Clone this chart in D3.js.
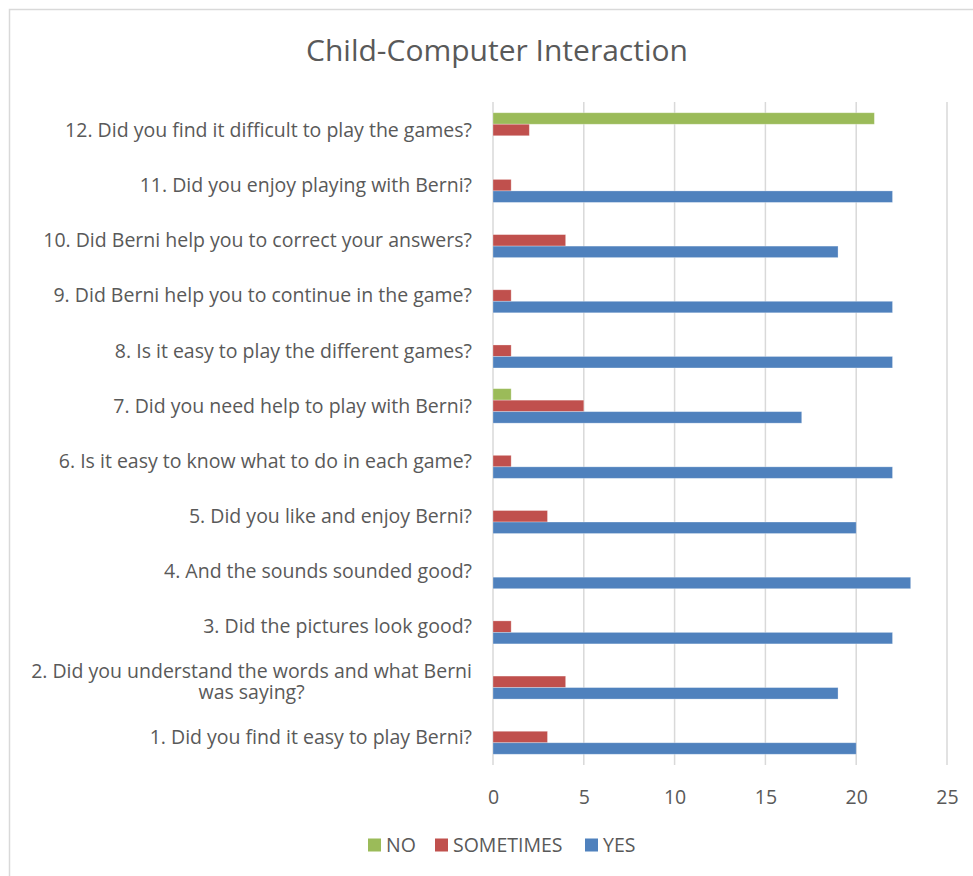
<!DOCTYPE html>
<html>
<head>
<meta charset="utf-8">
<script src="https://cdn.jsdelivr.net/npm/d3@7"></script>
<style>
  html, body { margin: 0; padding: 0; background: #fff; }
  svg { display: block; }
  text { font-family: "Open Sans", Lato, sans-serif; fill: #595959; }
</style>
</head>
<body>
<svg id="chart" width="973" height="876"></svg>
<script>
const title = "Child-Computer Interaction";
const categories = [
  ["1. Did you find it easy to play Berni?"],
  ["2. Did you understand the words and what Berni", "was saying?"],
  ["3. Did the pictures look good?"],
  ["4. And the sounds sounded good?"],
  ["5. Did you like and enjoy Berni?"],
  ["6. Is it easy to know what to do in each game?"],
  ["7. Did you need help to play with Berni?"],
  ["8. Is it easy to play the different games?"],
  ["9. Did Berni help you to continue in the game?"],
  ["10. Did Berni help you to correct your answers?"],
  ["11. Did you enjoy playing with Berni?"],
  ["12. Did you find it difficult to play the games?"]
];
const seriesNames = ["NO", "SOMETIMES", "YES"];
const seriesColors = ["#9BBB59", "#C0504D", "#4F81BD"];
const noValues =        [0, 0, 0, 0, 0, 0, 1, 0, 0, 0, 0, 21];
const sometimesValues = [3, 4, 1, 0, 3, 1, 5, 1, 1, 4, 1, 2];
const yesValues =       [20, 19, 22, 23, 20, 22, 17, 22, 22, 19, 22, 0];
const xTicks = [0, 5, 10, 15, 20, 25];

const seriesValues = [noValues, sometimesValues, yesValues];
const svg = d3.select("#chart");
const FS = "19.5px";

// chart border
svg.append("rect")
  .attr("x", 9.5).attr("y", 9.5).attr("width", 1000).attr("height", 900)
  .attr("fill", "none").attr("stroke", "#d9d9d9").attr("stroke-width", 1.5);

// title
svg.append("text")
  .attr("x", 497).attr("y", 61)
  .attr("text-anchor", "middle")
  .style("font-size", "30px")
  .text(title);

const x = d3.scaleLinear().domain([0, 25]).range([493, 947]);
const idx = categories.map((d, i) => i);
const y = d3.scaleBand().domain(idx.slice().reverse()).range([102.4, 764.6]).padding(0);
const groupH = y.bandwidth() * 0.625;
const sub = d3.scaleBand().domain(seriesNames).range([0, groupH]).padding(0);

// gridlines
svg.append("g").selectAll("line").data(xTicks).join("line")
  .attr("x1", d => x(d)).attr("x2", d => x(d))
  .attr("y1", 102).attr("y2", 765)
  .attr("stroke", "#d9d9d9").attr("stroke-width", 1.5);

// bars
const rows = [];
idx.forEach(i => seriesNames.forEach((s, j) => rows.push({ i, s, j, v: seriesValues[j][i] })));
svg.append("g").selectAll("rect").data(rows.filter(r => r.v > 0)).join("rect")
  .attr("x", x(0))
  .attr("y", r => y(r.i) + (y.bandwidth() - groupH) / 2 + sub(r.s))
  .attr("width", r => x(r.v) - x(0))
  .attr("height", sub.bandwidth())
  .attr("fill", r => seriesColors[r.j])
  .attr("stroke", "rgba(255,255,255,0.35)")
  .attr("stroke-width", 0.8);

// category labels
const lg = svg.append("g");
idx.forEach(i => {
  const lines = categories[i];
  const cy = y(i) + y.bandwidth() / 2;
  const lh = 21;
  if (lines.length === 1) {
    lg.append("text")
      .attr("x", 472).attr("y", cy).attr("dy", "0.35em")
      .attr("text-anchor", "end")
      .style("font-size", FS)
      .text(lines[0]);
  } else {
    const tmp = lg.append("text").style("font-size", FS).text(lines[0]);
    const w = tmp.node().getComputedTextLength();
    tmp.remove();
    const centerX = 472 - w / 2;
    const t = lg.append("text")
      .attr("text-anchor", "middle")
      .style("font-size", FS);
    lines.forEach((ln, k) => {
      t.append("tspan")
        .attr("x", centerX)
        .attr("y", cy + (k - (lines.length - 1) / 2) * lh)
        .attr("dy", "0.35em")
        .text(ln);
    });
  }
});

// x axis tick labels
const xAxis = d3.axisBottom(x).tickValues(xTicks).tickSize(0).tickPadding(0);
const ax = svg.append("g").attr("transform", "translate(0,797)").call(xAxis);
ax.select(".domain").remove();
ax.selectAll("text")
  .attr("dy", "0.35em")
  .style("font-size", FS)
  .style("font-family", "'Open Sans', Lato, sans-serif")
  .attr("fill", "#595959");

// legend
const legendItems = [
  { name: "NO", x: 368 },
  { name: "SOMETIMES", x: 435 },
  { name: "YES", x: 585 }
];
const leg = svg.append("g");
legendItems.forEach((it, j) => {
  leg.append("rect").attr("x", it.x).attr("y", 838.5).attr("width", 13).attr("height", 13)
    .attr("fill", seriesColors[j]);
  leg.append("text").attr("x", it.x + 18).attr("y", 845).attr("dy", "0.35em")
    .style("font-size", FS).text(it.name);
});
</script>
</body>
</html>
